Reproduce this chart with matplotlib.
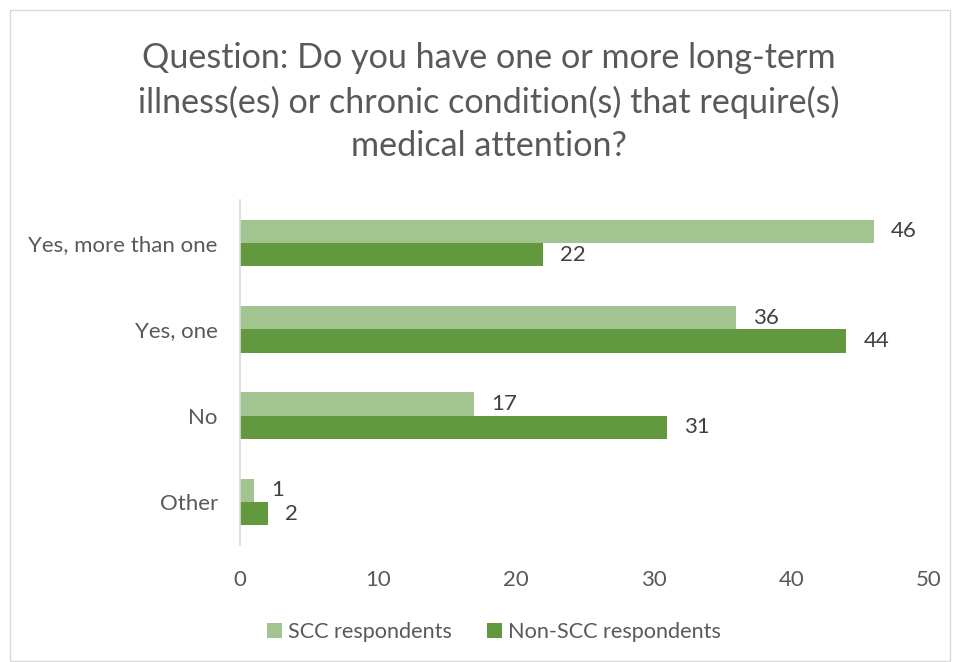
import matplotlib
matplotlib.use("Agg")
import matplotlib.pyplot as plt
import numpy as np
from matplotlib.patches import Rectangle

categories = ["Yes, more than one", "Yes, one", "No", "Other"]
scc = [46, 36, 17, 1]
non_scc = [22, 44, 31, 2]
series_names = ["SCC respondents", "Non-SCC respondents"]
xticks = [0, 10, 20, 30, 40, 50]
title = "Question: Do you have one or more long-term\nillness(es) or chronic condition(s) that require(s)\nmedical attention?"

plt.rcParams['font.family'] = ['Lato', 'DejaVu Sans']
c_light = "#A2C490"
c_dark = "#62993E"
txt = "#595959"
fs = 16

fig = plt.figure(figsize=(9.55, 6.62), dpi=100)
ax = fig.add_axes([240/955, 1-545/662, (929-240)/955, (545-200)/662])

y = np.arange(len(categories))
h = 0.27
ax.barh(y - h/2, scc, height=h, color=c_light, label=series_names[0])
ax.barh(y + h/2, non_scc, height=h, color=c_dark, label=series_names[1])

for yi, v in zip(y, scc):
    ax.annotate(str(v), (v, yi - h/2), xytext=(17, 0), textcoords="offset pixels",
                va="center", ha="left", fontsize=fs, color="#404040")
for yi, v in zip(y, non_scc):
    ax.annotate(str(v), (v, yi + h/2), xytext=(17, 0), textcoords="offset pixels",
                va="center", ha="left", fontsize=fs, color="#404040")

ax.set_ylim(len(categories) - 0.5, -0.5)
ax.set_xlim(0, 50)
ax.set_yticks(y)
ax.set_yticklabels(categories, fontsize=fs, color=txt)
ax.set_xticks(xticks)
ax.set_xticklabels([str(t) for t in xticks], fontsize=fs, color=txt)
ax.tick_params(axis='both', length=0)
ax.tick_params(axis='y', pad=16)
ax.tick_params(axis='x', pad=18)
for s in ["top", "right", "bottom"]:
    ax.spines[s].set_visible(False)
ax.spines["left"].set_color("#D9D9D9")
ax.spines["left"].set_linewidth(1.2)

fig.text(489/955, 1-102/662, title, ha="center", va="center", fontsize=24.6,
         color=txt, linespacing=1.44)

leg = fig.legend(loc="center", bbox_to_anchor=(494/955, 1-632/662), ncol=2,
                 frameon=False, fontsize=15.6, handlelength=0.65, handleheight=0.65,
                 columnspacing=1.66, handletextpad=0.28)
for t in leg.get_texts():
    t.set_color(txt)

fig.patches.append(Rectangle((10/955, 1-661/662), 940/955, 651/662, transform=fig.transFigure,
                             fill=False, edgecolor="#D9D9D9", linewidth=1))

fig.savefig("out.png", dpi=100, facecolor="white")
